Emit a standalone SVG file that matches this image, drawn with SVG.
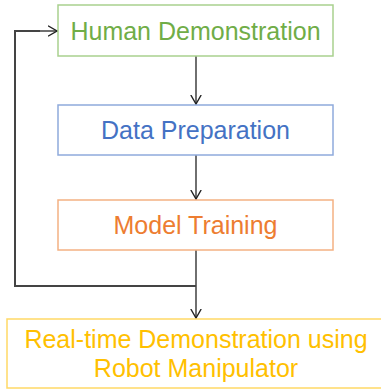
<svg xmlns="http://www.w3.org/2000/svg" width="381" height="389" viewBox="0 0 381 389">
<defs>
<marker id="arr" viewBox="0 0 10 12" refX="10" refY="6" markerWidth="10" markerHeight="12" markerUnits="userSpaceOnUse" orient="auto">
<path d="M0.5,0.8 L9.5,6 L0.5,11.2" fill="none" stroke="#222" stroke-width="1.4"/>
</marker>
</defs>
<style>
text{font-family:"Liberation Sans",Arial,sans-serif;font-size:25px;text-anchor:middle}
.box{fill:#fff;stroke-width:1.5}
.c{fill:none;stroke:#222;stroke-width:1.3}
.loop{fill:none;stroke:#444;stroke-width:2}
</style>
<rect width="381" height="389" fill="#fff"/>
<g id="connectors">
<line class="c" x1="196" y1="56" x2="196" y2="104.5" marker-end="url(#arr)"/>
<line class="c" x1="196" y1="155" x2="196" y2="199.5" marker-end="url(#arr)"/>
<line class="c" x1="196" y1="250" x2="196" y2="318.5" marker-end="url(#arr)"/>
<polyline class="loop" points="196,286 15,286 15,31 40,31"/>
<line class="c" x1="40" y1="31" x2="57.5" y2="31" marker-end="url(#arr)"/>
</g>
<g id="human">
<rect class="box" x="58" y="5" width="275" height="51" stroke="#A9D18E"/>
<text x="195.5" y="40" fill="#70AD47">Human Demonstration</text>
</g>
<g id="data">
<rect class="box" x="58" y="105" width="275" height="50" stroke="#8FAADC"/>
<text x="195.5" y="139" fill="#4472C4">Data Preparation</text>
</g>
<g id="model">
<rect class="box" x="58" y="200" width="275" height="50" stroke="#F4B183"/>
<text x="195.5" y="234" fill="#ED7D31">Model Training</text>
</g>
<g id="realtime">
<rect class="box" x="7" y="319" width="380" height="69" stroke="#FFD966"/>
<text x="196" y="348" fill="#FFC000">Real-time Demonstration using</text>
<text x="196" y="377" fill="#FFC000">Robot Manipulator</text>
</g>
</svg>
